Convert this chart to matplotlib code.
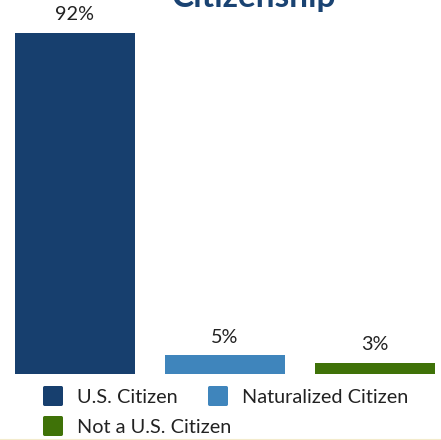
import matplotlib.pyplot as plt
from matplotlib.patches import FancyBboxPatch

categories = ["U.S. Citizen", "Naturalized Citizen", "Not a U.S. Citizen"]
values = [92, 5, 3]
labels = ["92%", "5%", "3%"]
colors = ["#173f6e", "#3f85bc", "#3f7208"]

plt.rcParams['font.family'] = ['Lato', 'DejaVu Sans']

W, H = 441, 440
fig = plt.figure(figsize=(W / 100, H / 100), dpi=100)
ax = fig.add_axes([0, 66 / H, 1, 374 / H])

x = range(len(values))
ax.bar(x, values, width=0.8, color=colors)
for xi, v, lab in zip(x, values, labels):
    ax.text(xi, v + 2.6, lab, ha="center", va="bottom", fontsize=14.3, color="#222222")

ax.set_xlim(-0.5, 2.44)
ax.set_ylim(0, 100.9)
ax.axis("off")

# title, mostly cut off at the top
fig.text(254 / W, 1 - 7 / H, "Citizenship", ha="center", va="baseline", fontsize=24,
         fontweight="bold", color="#1a4372")

# legend laid out in a flow, like the original (pixel positions: square left, row centre)
leg_pos = [(43, 396), (208, 396), (43, 426)]
for (px, py), cat, col in zip(leg_pos, categories, colors):
    sq = FancyBboxPatch((px / W, 1 - (py + 10) / H), 20 / W, 20 / H,
                        boxstyle="round,pad=0,rounding_size=0.004",
                        transform=fig.transFigure, facecolor=col, edgecolor="none")
    fig.add_artist(sq)
    fig.text((px + 34) / W, 1 - py / H, cat, ha="left", va="center_baseline",
             fontsize=14.3, color="#222222")

# faint line along the bottom edge
fig.add_artist(plt.Line2D([0, 1], [0.5 / H, 0.5 / H], transform=fig.transFigure,
                          color="#f3ebcc", lw=1.5))

fig.savefig("out.png", dpi=100)
